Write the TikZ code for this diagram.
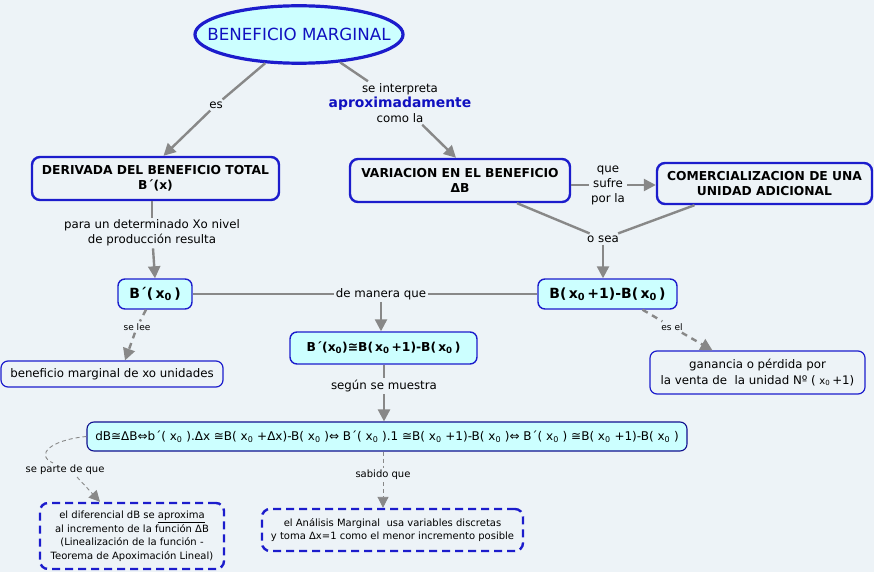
\documentclass[tikz,border=0pt]{standalone}
\usepackage{fontspec}
\setmainfont{DejaVu Sans}
\usetikzlibrary{arrows.meta,shapes.geometric}
\definecolor{bg}{HTML}{EDF3F7}
\definecolor{cy}{HTML}{CCFFFF}
\definecolor{bblue}{HTML}{1C1CCC}
\definecolor{navy}{HTML}{10108F}
\definecolor{ln}{HTML}{888888}
\definecolor{tblue}{HTML}{1010C0}
\newcommand{\zs}{\textsubscript{0}}
\newcommand{\xz}{\,x\zs\,}
\tikzset{
 conc/.style={draw=bblue, line width=2.4pt, rounded corners=8pt, fill=bg, align=center, font=\fontsize{12.3}{15}\selectfont\bfseries, inner sep=0pt},
 cyanbox/.style={draw=bblue, line width=1.4pt, rounded corners=7pt, fill=cy, align=center, font=\fontsize{14}{16}\selectfont\bfseries, inner sep=0pt},
 plainbox/.style={draw=bblue, line width=1.2pt, rounded corners=7pt, fill=bg, align=center, font=\fontsize{11.8}{15}\selectfont, inner sep=0pt},
 dbox/.style={draw=bblue, line width=2.4pt, dash pattern=on 8pt off 5pt, rounded corners=8pt, fill=bg, align=center, font=\fontsize{10}{13.5}\selectfont, inner sep=0pt},
 lbl/.style={align=center, font=\fontsize{11.8}{15}\selectfont, inner sep=2pt},
 slbl/.style={align=center, font=\fontsize{9}{11}\selectfont, inner sep=2pt},
 conn/.style={draw=ln, line width=2.4pt},
 arr/.style={conn, -{Triangle[length=12pt,width=12pt]}},
 dconn/.style={conn, dash pattern=on 6pt off 5pt},
 darr/.style={dconn, -{Triangle[length=12pt,width=12pt]}},
 tconn/.style={draw=ln, line width=0.9pt, dash pattern=on 4pt off 3pt},
 tarr/.style={tconn, -{Triangle[length=11pt,width=11pt]}},
}
\begin{document}
\begin{tikzpicture}[x=1pt,y=-1pt]
\fill[bg] (0,0) rectangle (874,572);
\useasboundingbox (0,0) rectangle (874,572);

% nodes
\node[ellipse, draw=bblue, line width=3.2pt, fill=cy, inner xsep=-18pt, inner ysep=14pt, text=tblue, font=\fontsize{16.7}{18}\selectfont] (ell) at (299,34.5) {BENEFICIO MARGINAL};

\node[conc, minimum width=247pt, minimum height=43pt] (der) at (155.5,178.5) {DERIVADA DEL BENEFICIO TOTAL\\B´(x)};
\node[conc, minimum width=220pt, minimum height=43pt] (var) at (460,180.5) {VARIACION EN EL BENEFICIO\\ΔB};
\node[conc, minimum width=215pt, minimum height=41pt] (com) at (764.5,183.5) {COMERCIALIZACION DE UNA\\UNIDAD ADICIONAL};

\node[cyanbox, minimum width=74pt, minimum height=30pt] (bp) at (155,294) {B´(\xz)};
\node[cyanbox, minimum width=139pt, minimum height=30pt] (bm) at (607.5,294) {B(\xz+1)-B(\xz)};
\node[cyanbox, minimum width=187pt, minimum height=32pt, font=\fontsize{12.3}{14}\selectfont\bfseries] (bpeq) at (383.5,348) {B´(x\zs)≅B(\xz+1)-B(\xz)};
\node[cyanbox, draw=navy, line width=1.1pt, minimum width=600pt, minimum height=29pt, font=\fontsize{12}{14}\selectfont\mdseries] (form) at (387,436.5) {dB≅ΔB⇔b´( x\zs\ ).Δx ≅B( x\zs\ +Δx)-B( x\zs\ )⇔ B´( x\zs\ ).1 ≅B( x\zs\ +1)-B( x\zs\ )⇔ B´( x\zs\ ) ≅B( x\zs\ +1)-B( x\zs\ )};

\node[plainbox, minimum width=222pt, minimum height=26pt] (bmu) at (112,374) {beneficio marginal de xo unidades};
\node[plainbox, minimum width=215pt, minimum height=43pt, font=\fontsize{11.8}{15.5}\selectfont] (gan) at (757.5,372.5) {ganancia o pérdida por\\la venta de\ \ la unidad Nº ( {\fontsize{10}{11}\selectfont x\zs}\,+1)};

\node[dbox, minimum width=184pt, minimum height=66pt] (b1) at (132,536) {el diferencial dB se \underline{aproxima}\\al incremento de la función ΔB\\(Linealización de la función -\\Teorema de Apoximación Lineal)};
\node[dbox, minimum width=261pt, minimum height=42pt] (b2) at (392.5,530) {el Análisis Marginal\ \ usa variables discretas\\y toma Δx=1 como el menor incremento posible};

% labels
\node[lbl] (es) at (216,105) {es};
\node[lbl] (interp) at (400,103) {se interpreta\\{\fontsize{13.9}{15}\selectfont\bfseries\color{tblue}aproximadamente}\\como la};
\node[lbl] (para) at (152,233) {para un determinado Xo nivel\\de producción resulta};
\node[lbl] (que) at (608,185) {que\\sufre\\por la};
\node[lbl] (osea) at (603,239) {o sea};
\node[lbl] (dmq) at (381,294) {de manera que};
\node[slbl] (selee) at (137,327) {se lee};
\node[slbl] (esel) at (672,327) {es el};
\node[lbl] (ssm) at (384,386) {según se muestra};
\node[lbl, font=\fontsize{10}{12}\selectfont] (spq) at (65,470) {se parte de que};
\node[lbl, font=\fontsize{10}{12}\selectfont] (sq) at (383,475) {sabido que};

% connectors
\draw[conn] (ell) -- (es);
\draw[arr] (es) -- ([xshift=8pt]der.north);
\draw[conn] (ell) -- (interp);
\draw[arr] (interp) -- ([xshift=-4pt]var.north);
\draw[conn] (der.south -| para) -- (para);
\draw[arr] (para) -- (bp.north);
\draw[conn] (var.east |- que) -- (que);
\draw[arr] (que) -- (com.west |- que);
\draw[conn] ([xshift=57pt]var.south) -- (osea);
\draw[conn] ([xshift=-70pt]com.south) -- (osea);
\draw[arr] (osea) -- (osea |- bm.north);
\draw[conn] (bp.east) -- (dmq);
\draw[conn] (bm.west) -- (dmq);
\draw[arr] (dmq) -- (bpeq.north -| dmq);
\draw[dconn] ([xshift=-9pt]bp.south) -- (selee);
\draw[darr] (selee) -- ([xshift=13pt]bmu.north);
\draw[dconn] ([xshift=35pt]bm.south) -- (esel);
\draw[darr] (esel) -- ([xshift=-45pt]gan.north);
\draw[conn] (bpeq.south -| ssm) -- (ssm);
\draw[arr] (ssm) -- (form.north -| ssm);
\draw[tconn] (form.west) .. controls (50,440) and (35,455) .. ([xshift=-12pt]spq.north);
\draw[tarr] ([xshift=12pt]spq.south) -- ([xshift=-32pt]b1.north);
\draw[tconn] (form.south -| sq) -- (sq);
\draw[tarr] (sq) -- (sq |- b2.north);
\end{tikzpicture}
\end{document}
